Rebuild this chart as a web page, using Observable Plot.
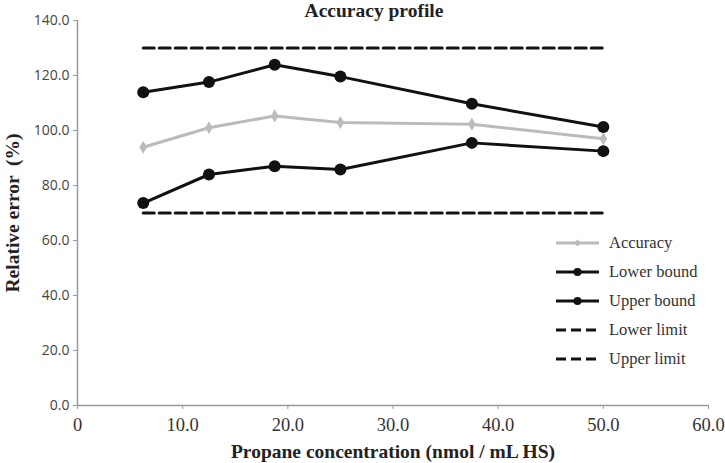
<!DOCTYPE html>
<html><head><meta charset="utf-8">
<script src="https://cdn.jsdelivr.net/npm/d3@7"></script>
<script src="https://cdn.jsdelivr.net/npm/@observablehq/plot@0.6"></script>
<style>
body{margin:0;background:#fff}
#wrap{position:relative;width:725px;height:463px}
#title{position:absolute;left:0;width:748px;top:0px;text-align:center;font:bold 19.5px "Liberation Serif",serif;color:#222}
#legend{position:absolute;left:555px;top:228px;font:16.5px "Liberation Serif",serif;color:#333}
#legend .row{height:29px;display:flex;align-items:center}
#legend svg{margin-right:9px}
</style>
</head><body>
<div id="wrap"><div id="title">Accuracy profile</div><div id="legend"></div></div>
<script>
const concentration = [6.25, 12.5, 18.75, 25, 37.5, 50];
const accuracy   = [93.9, 101.0, 105.3, 102.9, 102.3, 97.0];
const lowerBound = [73.6, 84.0, 87.0, 85.8, 95.5, 92.5];
const upperBound = [113.9, 117.6, 123.9, 119.6, 109.7, 101.3];
const lowerLimit = 70;
const upperLimit = 130;
const xTicks = [0, 10, 20, 30, 40, 50, 60];
const yTicks = [0, 20, 40, 60, 80, 100, 120, 140];
const seriesNames = ["Accuracy", "Lower bound", "Upper bound", "Lower limit", "Upper limit"];

const rows = (vals) => concentration.map((x, i) => ({x, y: vals[i]}));
const limitRows = (v) => concentration.map(x => ({x, y: v}));

const axisColor = "#999";
const plot = Plot.plot({
  width: 725, height: 463,
  marginLeft: 77, marginRight: 17, marginTop: 20, marginBottom: 58,
  x: {domain: [0, 60]},
  y: {domain: [0, 140]},
  marks: [
    Plot.ruleX([0], {stroke: axisColor, strokeWidth: 1.5}),
    Plot.ruleY([0], {stroke: axisColor, strokeWidth: 1.5}),
    Plot.axisX({ticks: xTicks, tickFormat: d => d === 0 ? "0" : d.toFixed(1), tickSize: 4, stroke: axisColor,
      tickPadding: 8,
      label: "Propane concentration (nmol / mL HS)", labelAnchor: "center", labelArrow: "none", labelOffset: 52}),
    Plot.axisY({ticks: yTicks, tickFormat: d => d.toFixed(1), tickSize: 4, stroke: axisColor,
      tickPadding: 4,
      label: "Relative error  (%)", labelAnchor: "center", labelArrow: "none", labelOffset: 72}),
    Plot.line(limitRows(upperLimit), {x: "x", y: "y", stroke: "#111", strokeWidth: 3, strokeDasharray: "11,5"}),
    Plot.line(limitRows(lowerLimit), {x: "x", y: "y", stroke: "#111", strokeWidth: 3, strokeDasharray: "11,5"}),
    Plot.line(rows(accuracy), {x: "x", y: "y", stroke: "#bbb", strokeWidth: 3}),
    Plot.dot(rows(accuracy), {x: "x", y: "y", fill: "#bbb", symbol: "diamond", r: 4}),
    Plot.line(rows(lowerBound), {x: "x", y: "y", stroke: "#111", strokeWidth: 3}),
    Plot.dot(rows(lowerBound), {x: "x", y: "y", fill: "#111", r: 6}),
    Plot.line(rows(upperBound), {x: "x", y: "y", stroke: "#111", strokeWidth: 3}),
    Plot.dot(rows(upperBound), {x: "x", y: "y", fill: "#111", r: 6})
  ]
});
const sel = d3.select(plot);
sel.selectAll("g[aria-label='x-axis tick label'] text")
  .style("font-family", "Liberation Serif, serif").style("font-size", "18.5px").attr("fill", "#333");
sel.selectAll("g[aria-label='y-axis tick label'] text")
  .style("font-family", "Open Sans, sans-serif").style("font-size", "14px").attr("fill", "#444");
sel.selectAll("g[aria-label='x-axis label'] text, g[aria-label='y-axis label'] text")
  .style("font-family", "Liberation Serif, serif").style("font-weight", "bold").style("font-size", "19.5px").attr("fill", "#222");
document.getElementById("wrap").prepend(plot);

const leg = d3.select("#legend");
const styles = [
  {stroke: "#bbb", dash: null, marker: "diamond"},
  {stroke: "#111", dash: null, marker: "circle"},
  {stroke: "#111", dash: null, marker: "circle"},
  {stroke: "#111", dash: "10,5", marker: null},
  {stroke: "#111", dash: "10,5", marker: null}
];
seriesNames.forEach((name, i) => {
  const s = styles[i];
  const row = leg.append("div").attr("class", "row");
  const svg = row.append("svg").attr("width", 45).attr("height", 12);
  svg.append("line").attr("x1", 1).attr("x2", 44).attr("y1", 6).attr("y2", 6)
    .attr("stroke", s.stroke).attr("stroke-width", 3).attr("stroke-dasharray", s.dash);
  if (s.marker === "circle") svg.append("circle").attr("cx", 22.5).attr("cy", 6).attr("r", 4).attr("fill", s.stroke);
  if (s.marker === "diamond") svg.append("path").attr("d", d3.symbol(d3.symbolDiamond2, 30)()).attr("transform", "translate(22.5,6)").attr("fill", s.stroke);
  row.append("span").text(name);
});
</script>
</body></html>
